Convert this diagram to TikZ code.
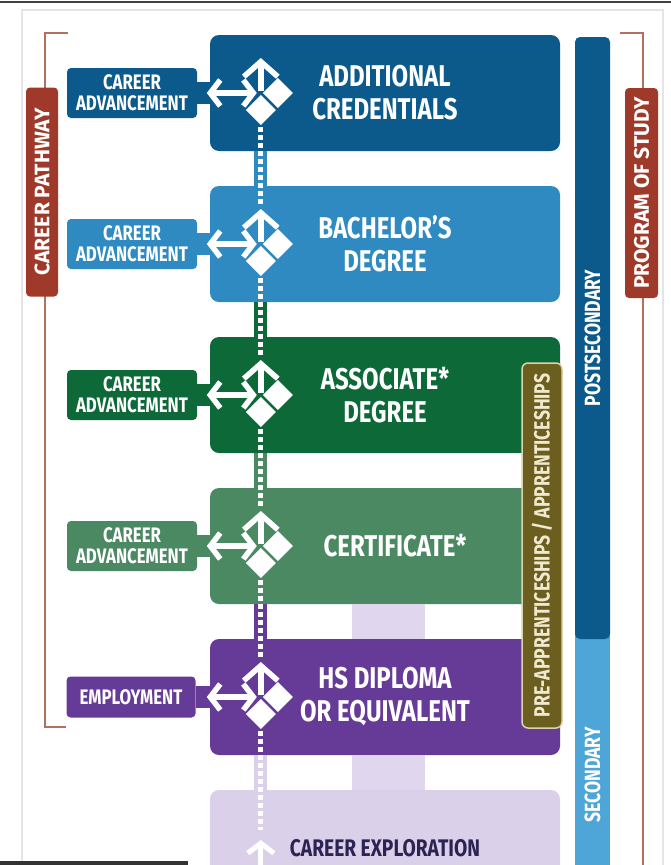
\documentclass[tikz,border=0pt]{standalone}
\usepackage{fontspec}
\usepackage{tikz}
\usetikzlibrary{positioning,arrows.meta}

\newfontfamily\condfont{Fira Sans}[FakeStretch=0.8]
\newfontfamily\widefont{Fira Sans}

\definecolor{credblue}{HTML}{0C5A8C}
\definecolor{bachblue}{HTML}{2F8AC2}
\definecolor{assocgreen}{HTML}{0E6939}
\definecolor{certgreen}{HTML}{4B8963}
\definecolor{hspurple}{HTML}{663B97}
\definecolor{explorelilac}{HTML}{DBD0E9}
\definecolor{trunklilac}{HTML}{E0D7EE}
\definecolor{exploretext}{HTML}{2C2352}
\definecolor{secblue}{HTML}{4EA6D8}
\definecolor{apprentolive}{HTML}{6B5E1F}
\definecolor{apprentline}{HTML}{D9D3AE}
\definecolor{apprenttext}{HTML}{EFE9CF}
\definecolor{bracketred}{HTML}{B2705F}
\definecolor{labelred}{HTML}{9F3A2A}

\tikzset{
  hub/.pic={
    \fill[white] (2,0) -- (17,-15) -- (32,0) -- (17,15) -- cycle;
    \fill[white] (0,2) -- (15,17) -- (0,32) -- (-15,17) -- cycle;
    \draw[white, line width=5.5pt, -{Straight Barb[length=15pt,width=34pt]}] (0,-2) -- (0,-35);
    \draw[white, line width=5.5pt, {Straight Barb[length=10pt,width=26pt]}-{Straight Barb[length=10pt,width=26pt]}] (-54,0) -- (-4,0);
  }
}

\begin{document}
\begin{tikzpicture}[x=1pt,y=-1pt,node distance=151pt,
    stage/.style={rounded corners=9pt,minimum width=350pt,minimum height=116pt,
                  text=white,align=center,font=\condfont\bfseries\fontsize{30}{33}\selectfont},
    move/.style={rounded corners=4pt,minimum width=130pt,minimum height=50pt,inner sep=0pt,
                 text=white,align=center,font=\condfont\bfseries\fontsize{21}{21}\selectfont},
    bar/.style={rotate=90,minimum height=35pt,inner sep=0pt,text=white,
                font=\condfont\bfseries\fontsize{22}{22}\selectfont},
    tag/.style={rotate=90,fill=labelred,text=white,rounded corners=4pt,inner sep=0pt,
                minimum width=209pt,minimum height=32pt,font=\widefont\bfseries\fontsize{21}{21}\selectfont},
    bracket/.style={bracketred,line width=2.5pt},
    stub/.style={line width=22pt},
    rail/.style={line width=13pt},
    trunk/.style={trunklilac,line width=73pt},
    dots/.style={white,line width=5pt,dash pattern=on 5pt off 3pt}]
  \clip (0,0) rectangle (671,865);

  % page edges
  \draw[black!10, line width=1.5pt] (22,870) |- (663,10) -- (663,870);
  \draw[black!75, line width=2.5pt] (0,2) -- (671,2);
  \draw[black!80, line width=4pt] (0,863) -- (188,863);

  % brackets
  \draw[bracket] (68,33) -| (45,727) -- (66,727);
  \draw[bracket] (620,33) -| (643,870);
  \node[tag] (pathway) at (42,192) {CAREER PATHWAY};
  \node[tag, minimum width=210pt, minimum height=33pt] (study) at (641.5,193) {PROGRAM OF STUDY};

  % levels
  \node[bar, fill=secblue, minimum width=310pt] (second) at (592.5,775) {SECONDARY};
  \node[bar, fill=credblue, rounded corners=5pt, minimum width=602pt] (post) at (592.5,338) {POSTSECONDARY};

  % stages
  \node[stage, fill=credblue]   (cred)    at (385,93)    {ADDITIONAL\\CREDENTIALS};
  \node[stage, fill=bachblue]   (bach)    [below of=cred]  {BACHELOR’S\\DEGREE};
  \node[stage, fill=assocgreen] (assoc)   [below of=bach]  {ASSOCIATE*\\DEGREE};
  \node[stage, fill=certgreen]  (cert)    [below of=assoc] {\hspace*{20pt}CERTIFICATE*};
  \node[stage, fill=hspurple]   (hs)      [below of=cert]  {HS DIPLOMA\\OR EQUIVALENT};
  \node[stage, fill=explorelilac, text=exploretext, font=\condfont\bfseries\fontsize{24}{26}\selectfont]
                                (explore) [below of=hs]    {CAREER EXPLORATION};

  \node[move, fill=credblue]   (adv1) [left of=cred, node distance=253pt]  {CAREER\\ADVANCEMENT};
  \node[move, fill=bachblue]   (adv2) [left of=bach, node distance=253pt]  {CAREER\\ADVANCEMENT};
  \node[move, fill=assocgreen] (adv3) [left of=assoc, node distance=253pt] {CAREER\\ADVANCEMENT};
  \node[move, fill=certgreen]  (adv4) [left of=cert, node distance=253pt]  {CAREER\\ADVANCEMENT};
  \node[move, fill=hspurple, minimum width=129pt, minimum height=41pt]
                               (employ) [left of=hs, node distance=254pt]  {EMPLOYMENT};

  \coordinate[right=51pt of cred.west]    (h1);
  \coordinate[right=51pt of bach.west]    (h2);
  \coordinate[right=51pt of assoc.west]   (h3);
  \coordinate[right=51pt of cert.west]    (h4);
  \coordinate[right=51pt of hs.west]      (h5);
  \coordinate[right=51pt of explore.west] (h6);

  % links
  \draw[trunk] ([xshift=3.5pt]cert.south) -- ([xshift=3.5pt]hs.north);
  \draw[trunk] ([xshift=3.5pt]hs.south) -- ([xshift=3.5pt]explore.north);
  \draw[stub, credblue]   (adv1.east) -- (adv1.east -| cred.west);
  \draw[stub, bachblue]   (adv2.east) -- (adv2.east -| bach.west);
  \draw[stub, assocgreen] (adv3.east) -- (adv3.east -| assoc.west);
  \draw[stub, certgreen]  (adv4.east) -- (adv4.east -| cert.west);
  \draw[stub, hspurple]   (employ.east) -- (employ.east -| hs.west);
  \draw[rail, bachblue]     (h1 |- cred.south)  -- (h2 |- bach.north);
  \draw[rail, assocgreen]   (h2 |- bach.south)  -- (h3 |- assoc.north);
  \draw[rail, certgreen]    (h3 |- assoc.south) -- (h4 |- cert.north);
  \draw[rail, hspurple]     (h4 |- cert.south)  -- (h5 |- hs.north);
  \draw[rail, explorelilac] (h5 |- hs.south)    -- (h6 |- explore.north);

  \draw[dots, shorten <=34pt, shorten >=38pt] (h1) -- (h2);
  \draw[dots, shorten <=34pt, shorten >=38pt] (h2) -- (h3);
  \draw[dots, shorten <=34pt, shorten >=38pt] (h3) -- (h4);
  \draw[dots, shorten <=34pt, shorten >=38pt] (h4) -- (h5);
  \draw[dots, shorten <=34pt, shorten >=18pt] (h5) -- (h6);

  \pic at (h1) {hub};
  \pic at (h2) {hub};
  \pic at (h3) {hub};
  \pic at (h4) {hub};
  \pic at (h5) {hub};
  \draw[white, line width=5pt, -{Straight Barb[length=10pt,width=26pt]}] ([yshift=-20pt]h6) -- ([yshift=8pt]h6);

  % apprenticeships
  \node[rotate=90, fill=apprentolive, draw=apprentline, line width=1.5pt, rounded corners=6pt,
        minimum width=365pt, minimum height=40pt, inner sep=0pt, text=apprenttext,
        font=\condfont\bfseries\fontsize{22}{22}\selectfont]
        (appr) at (542,545.5) {PRE-APPRENTICESHIPS / APPRENTICESHIPS};
\end{tikzpicture}
\end{document}
